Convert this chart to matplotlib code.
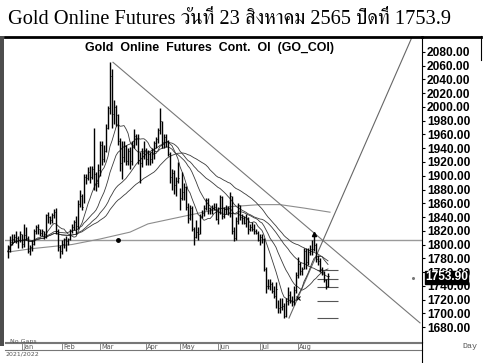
import matplotlib
matplotlib.use("Agg")
import matplotlib.pyplot as plt
import numpy as np
import pandas as pd

# ---------------- data (daily bars, Dec 2021 - 23 Aug 2022) ----------------
month_labels = ["Jan", "Feb", "Mar", "Apr", "May", "Jun", "Jul", "Aug"]
month_start_idx = [7, 27, 46, 69, 86, 105, 126, 145]

closes = [
    # Dec
    1790, 1803, 1808, 1811, 1810, 1806, 1815,
    # Jan
    1801, 1814, 1810, 1791, 1797, 1801, 1820, 1826, 1822, 1817,
    1819, 1813, 1843, 1840, 1835, 1843, 1848, 1819, 1796, 1791,
    # Feb
    1801, 1808, 1805, 1808, 1820, 1826, 1833, 1827, 1859, 1871,
    1855, 1898, 1897, 1906, 1898, 1910, 1903, 1889, 1909,
    # Mar
    1944, 1924, 1936, 1970, 1998, 2045, 1990, 2000, 1988, 1951, 1918, 1927,
    1943, 1921, 1936, 1921, 1944, 1958, 1954, 1923, 1918, 1933, 1937,
    # Apr
    1925, 1932, 1924, 1931, 1947, 1954, 1966, 1979, 1949, 1957, 1951, 1932,
    1898, 1904, 1886, 1892, 1896,
    # May
    1868, 1877, 1883, 1854, 1838, 1853, 1822, 1811, 1818, 1815, 1842, 1846,
    1853, 1865, 1853, 1851, 1853, 1855, 1837,
    # Jun
    1847, 1869, 1841, 1852, 1853, 1848, 1871, 1819, 1809, 1834, 1857, 1840,
    1839, 1832, 1838, 1822, 1826, 1823, 1820, 1817, 1807,
    # Jul
    1811, 1808, 1764, 1739, 1740, 1742, 1733, 1725, 1735, 1708, 1709, 1711,
    1696, 1718, 1727, 1719, 1717, 1734, 1756,
    # Aug
    1772, 1762, 1765, 1791, 1775, 1789, 1794, 1794, 1800, 1779, 1776, 1765,
    1760, 1748, 1740, 1753.9,
]
highs = [
    1800, 1812, 1815, 1816, 1820, 1813, 1820,
    1815, 1830, 1826, 1812, 1800, 1806, 1823, 1828, 1830, 1823,
    1822, 1820, 1845, 1847, 1842, 1846, 1852, 1853, 1823, 1800,
    1807, 1810, 1812, 1810, 1822, 1830, 1836, 1842, 1865, 1880,
    1873, 1902, 1902, 1912, 1914, 1914, 1970, 1905, 1917,
    1950, 1950, 1945, 1975, 2002, 2065, 2055, 2010, 2003, 1990, 1955, 1950,
    1950, 1945, 1940, 1942, 1950, 1968, 1960, 1960, 1935, 1940, 1950,
    1940, 1938, 1935, 1940, 1950, 1957, 1970, 1998, 1980, 1960, 1960, 1952,
    1935, 1910, 1908, 1898, 1920,
    1882, 1905, 1890, 1885, 1860, 1858, 1856, 1825, 1835, 1825, 1845, 1850,
    1858, 1868, 1867, 1855, 1858, 1860, 1860,
    1855, 1872, 1870, 1855, 1858, 1856, 1876, 1870, 1825, 1840, 1860, 1858,
    1845, 1842, 1845, 1840, 1830, 1833, 1830, 1822, 1820,
    1815, 1815, 1810, 1768, 1750, 1750, 1745, 1740, 1745, 1720, 1722, 1722,
    1715, 1722, 1738, 1732, 1725, 1740, 1760,
    1782, 1775, 1768, 1795, 1795, 1795, 1800, 1807, 1815, 1802, 1785, 1780,
    1768, 1762, 1750, 1758,
]
lows = [
    1780, 1789, 1800, 1804, 1802, 1795, 1804,
    1795, 1797, 1806, 1788, 1785, 1791, 1800, 1816, 1816, 1812,
    1812, 1808, 1810, 1832, 1830, 1831, 1838, 1815, 1790, 1780,
    1786, 1795, 1790, 1800, 1806, 1817, 1821, 1815, 1822, 1855,
    1850, 1860, 1888, 1894, 1890, 1895, 1880, 1878, 1883,
    1900, 1915, 1920, 1935, 1968, 1990, 1970, 1975, 1972, 1945, 1907, 1895,
    1920, 1916, 1915, 1910, 1915, 1940, 1945, 1917, 1890, 1912, 1925,
    1915, 1915, 1915, 1918, 1925, 1940, 1948, 1960, 1940, 1940, 1942, 1928,
    1890, 1880, 1873, 1870, 1890,
    1850, 1865, 1865, 1850, 1832, 1835, 1820, 1800, 1810, 1806, 1815, 1838,
    1842, 1850, 1845, 1845, 1845, 1850, 1835,
    1830, 1845, 1837, 1838, 1845, 1843, 1840, 1815, 1805, 1807, 1830, 1835,
    1830, 1830, 1825, 1815, 1820, 1820, 1815, 1815, 1805,
    1800, 1802, 1762, 1730, 1735, 1734, 1730, 1722, 1708, 1700, 1700, 1705,
    1693, 1695, 1712, 1715, 1710, 1712, 1730,
    1752, 1755, 1755, 1765, 1765, 1770, 1785, 1785, 1790, 1775, 1770, 1760,
    1755, 1745, 1735, 1738,
]

ma_windows = [10, 20, 35, 50]

# long moving average (day index, value)
long_ma_idx = [0, 12, 32, 46, 61, 70, 91, 111, 126, 136, 148, 161]
long_ma_val = [1789, 1794, 1800, 1808, 1818, 1830, 1843, 1855, 1858, 1858, 1853, 1847]

level_price = 1806.5
down_trend = ([52.5, 206.0], [2065, 1686])
up_trend = ([140.5, 202.5], [1693, 2105])
fib_levels = [1763, 1750, 1738, 1718, 1693]
fib_span = (154.5, 165.0)

last_close = 1753.90
yticks = list(range(1680, 2081, 20))

# ---------------- figure ----------------
W, H = 483, 363
fig = plt.figure(figsize=(W / 100, H / 100), dpi=100)

def fx(px):
    return px / W

def fy(py):
    return 1 - py / H

ax_l, ax_r, ax_t, ax_b = 5, 422, 37, 342
ax = fig.add_axes([fx(ax_l), fy(ax_b), fx(ax_r - ax_l), (ax_b - ax_t) / H])
ax.set_xlim(-1.5, 207)
ax.set_ylim(1658.2, 2101.8)

idx = np.arange(len(closes))
ax.vlines(idx, lows, highs, color="black", lw=1.0, zorder=4)
ax.hlines(closes, idx, idx + 0.7, color="black", lw=0.7, zorder=4)

s = pd.Series(closes)
for w in ma_windows:
    ax.plot(idx, s.rolling(w, min_periods=1).mean(), color="#3a3a3a", lw=0.6, zorder=3)

ax.plot(long_ma_idx, long_ma_val, color="#8c8c8c", lw=0.8, zorder=2)
ax.axhline(level_price, color="#9a9a9a", lw=1.0, zorder=1)
ax.plot(down_trend[0], down_trend[1], color="#777777", lw=0.8, zorder=2)
ax.plot(up_trend[0], up_trend[1], color="#666666", lw=0.8, zorder=2)
ax.hlines(fib_levels, fib_span[0], fib_span[1], color="#555555", lw=0.8, zorder=2)

ax.plot([55], [level_price], marker="o", ms=2.5, color="black", zorder=5)
ax.plot([153], [1815], marker="^", ms=3, color="black", zorder=5)
ax.plot([145], [1722], marker="x", ms=3, mew=0.8, color="black", zorder=5)
ax.plot([202.5], [1751], marker="o", ms=1.2, color="#777777", zorder=5)

ax.set_xticks([])
ax.yaxis.tick_right()
ax.set_yticks(yticks)
ax.set_yticklabels(["%.2f" % v for v in yticks])
ax.tick_params(axis="y", direction="out", length=2.5, width=0.8, pad=1,
               labelsize=8.6, colors="black")
for lab in ax.get_yticklabels():
    lab.set_fontweight("bold")
    lab.set_family("Liberation Sans")
ax.spines["top"].set_linewidth(2.0)
ax.spines["left"].set_visible(False)
ax.spines["right"].set_linewidth(0.8)
ax.spines["bottom"].set_linewidth(0.8)
ax.spines["bottom"].set_color("#777777")

# inner chart title
ax.text(0.49, 0.985, "Gold  Online  Futures  Cont.  OI  (GO_COI)", transform=ax.transAxes,
        ha="center", va="top", fontsize=8.9, fontweight="bold", family="Liberation Sans")

# current price box
fig.text(fx(425), fy(277.5), "%.2f" % last_close, ha="left", va="center", fontsize=8.6,
         fontweight="bold", family="Liberation Sans", color="white",
         bbox=dict(boxstyle="square,pad=0.03", fc="black", ec="black"), zorder=10)

# left dark bar
fig.add_artist(plt.Rectangle((0, fy(346)), fx(4), (346 - 36) / H, transform=fig.transFigure,
                             color="#4d4d4d", lw=0))

# top line over the right panel and the right panel divider
fig.add_artist(plt.Line2D([fx(ax_r), fx(481)], [fy(36.5), fy(36.5)], color="black", lw=2.0))
fig.add_artist(plt.Line2D([fx(ax_r), fx(ax_r)], [fy(ax_b), 0], color="black", lw=0.8))
fig.add_artist(plt.Line2D([fx(480.5), fx(480.5)], [fy(36), fy(60)], color="black", lw=0.8))

# date strip
strip = fig.add_axes([fx(ax_l), fy(350), fx(ax_r - ax_l), 7 / H])
strip.set_xlim(ax.get_xlim())
strip.set_ylim(0, 1)
strip.set_xticks([])
strip.set_yticks([])
for side in ["left", "right"]:
    strip.spines[side].set_visible(False)
strip.spines["top"].set_color("#777777")
strip.spines["bottom"].set_color("#777777")
strip.spines["top"].set_linewidth(0.8)
strip.spines["bottom"].set_linewidth(0.8)
strip.patch.set_alpha(0)
for m, i0 in zip(month_labels, month_start_idx):
    strip.axvline(i0, color="#777777", lw=0.6)
    strip.text(i0 + 0.6, 0.45, m, fontsize=4.8, color="#555555", va="center", ha="left",
               family="DejaVu Sans")

fig.text(fx(10), fy(341), "No Gaps", fontsize=4.5, color="#555555", va="center", ha="left")
fig.text(fx(6), fy(354), "2021/2022", fontsize=4.5, color="#555555", va="center", ha="left")
fig.text(fx(470), fy(347), "Day", fontsize=6, color="#555555", va="center", ha="center",
         family="Liberation Mono")

# main title
fig.text(fx(230), fy(19), "Gold Online Futures วันที่ 23 สิงหาคม 2565 ปิดที่ 1753.9",
         ha="center", va="center", fontsize=14.7,
         family=["Liberation Serif", "FreeSerif", "Noto Serif Thai"])

fig.savefig("out.png", dpi=100)
